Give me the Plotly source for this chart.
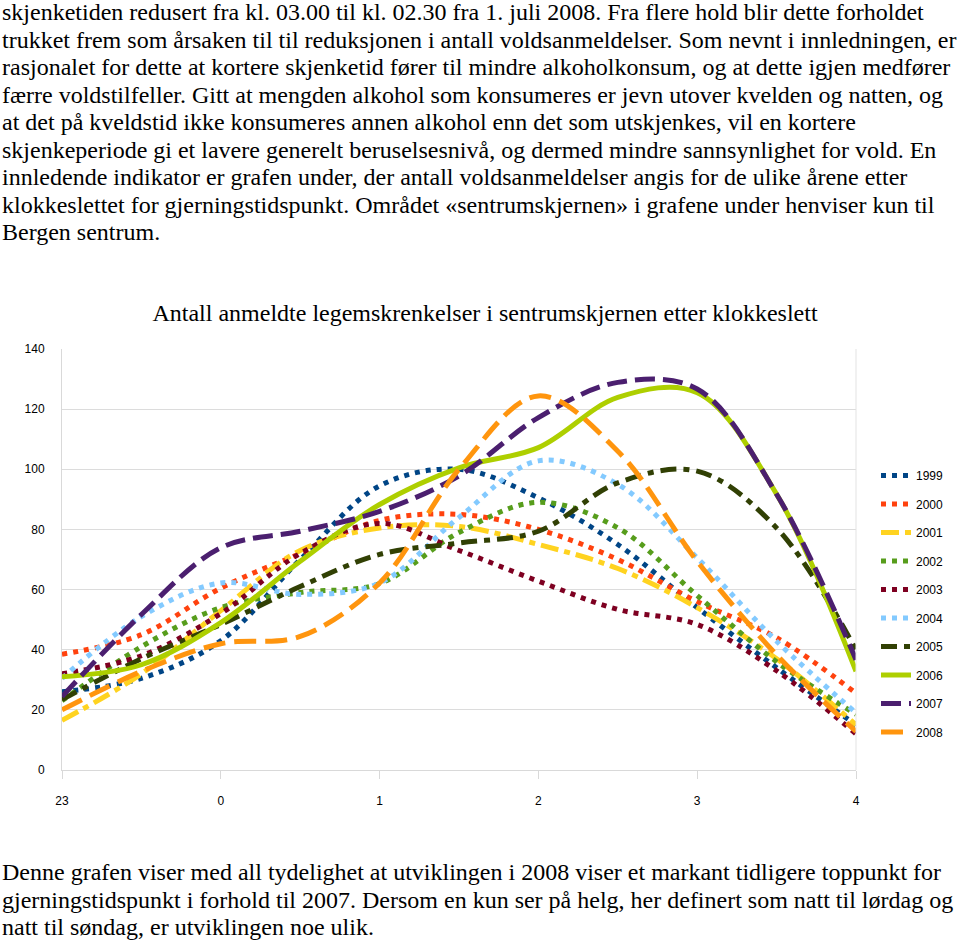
import plotly.graph_objects as go

# x positions: half-hour steps from 23:00 (-1) to 04:00 (4)
hours = [-1, -0.5, 0, 0.5, 1, 1.5, 2, 2.5, 3, 3.5, 4]
tick_vals = [-1, 0, 1, 2, 3, 4]
tick_text = ["23", "0", "1", "2", "3", "4"]

y1999 = [26, 30.5, 43, 70, 94.5, 100, 90.5, 75, 54, 34, 15]
y2000 = [38.5, 45, 60.5, 72, 83, 85, 80, 70, 56, 44, 25.5]
y2001 = [16.5, 32, 53, 73, 80.5, 81, 75, 67, 54, 37, 15]
y2002 = [23, 41, 54, 59, 62, 79, 89, 80.5, 58, 36, 18.5]
y2003 = [32, 38, 52, 72, 82, 73, 62.8, 53.4, 48.4, 33, 12]
y2004 = [30.5, 51, 62.2, 58.4, 62.2, 84, 102.8, 95, 70.5, 42.8, 19]
y2005 = [23.4, 37, 48.4, 61, 71.7, 75.5, 79.4, 95.5, 99.4, 80.5, 40]
y2006 = [31, 35, 49, 69.4, 88.3, 100.5, 107.2, 123.9, 125.5, 91.7, 32.8]
y2007 = [24.4, 51.7, 73.9, 79.4, 86, 97.8, 117.2, 128.9, 126.7, 91.7, 36.7]
y2008 = [20, 32.8, 42, 44.4, 62.2, 100, 124.4, 106, 69.4, 38.3, 12.8]

series_names = ["1999", "2000", "2001", "2002", "2003", "2004", "2005", "2006", "2007", "2008"]
series_values = [y1999, y2000, y2001, y2002, y2003, y2004, y2005, y2006, y2007, y2008]
colors = ["#004586", "#ff420e", "#ffd320", "#579d1c", "#7e0021",
          "#83caff", "#314004", "#aecf00", "#4b1f6f", "#ff950e"]
dashes = ["5px,6px", "5px,6px", "18px,6px,6px,6px", "5px,6px", "5px,6px",
          "5px,6px", "16px,7px,6px,7px", "solid", "20px,8px", "22px,9px"]

top_text = [
    "skjenketiden redusert fra kl. 03.00 til kl. 02.30 fra 1. juli 2008. Fra flere hold blir dette forholdet",
    "trukket frem som årsaken til til reduksjonen i antall voldsanmeldelser. Som nevnt i innledningen, er",
    "rasjonalet for dette at kortere skjenketid fører til mindre alkoholkonsum, og at dette igjen medfører",
    "færre voldstilfeller. Gitt at mengden alkohol som konsumeres er jevn utover kvelden og natten, og",
    "at det på kveldstid ikke konsumeres annen alkohol enn det som utskjenkes, vil en kortere",
    "skjenkeperiode gi et lavere generelt beruselsesnivå, og dermed mindre sannsynlighet for vold. En",
    "innledende indikator er grafen under, der antall voldsanmeldelser angis for de ulike årene etter",
    "klokkeslettet for gjerningstidspunkt. Området «sentrumskjernen» i grafene under henviser kun til",
    "Bergen sentrum.",
]
bottom_text = [
    "Denne grafen viser med all tydelighet at utviklingen i 2008 viser et markant tidligere toppunkt for",
    "gjerningstidspunkt i forhold til 2007. Dersom en kun ser på helg, her definert som natt til lørdag og",
    "natt til søndag, er utviklingen noe ulik.",
]
title_text = "Antall anmeldte legemskrenkelser i sentrumskjernen etter klokkeslett"

SERIF = "Liberation Serif, Times New Roman, Times, serif"
SANS = "Liberation Sans, Arial, sans-serif"

W, H = 960, 941
L, R, T, B = 62, 856, 349, 770

fig = go.Figure()
for i, (name, vals) in enumerate(zip(series_names, series_values)):
    fig.add_trace(go.Scatter(
        x=hours, y=vals, name=name, mode="lines",
        line=dict(color=colors[i], width=5, dash=dashes[i], shape="spline", smoothing=1.0),
        legendgroup=name,
    ))

def px_to_paper_x(px):
    return (px - L) / (R - L)

def px_to_paper_y(py):
    return (B - py) / (B - T)

annotations = []
top_y = [12, 40, 67, 95, 122, 150, 177, 205, 232]
for txt, py in zip(top_text, top_y):
    annotations.append(dict(text=txt, x=px_to_paper_x(0), y=px_to_paper_y(py),
                            xref="paper", yref="paper", xanchor="left", yanchor="middle",
                            showarrow=False, font=dict(family=SERIF, size=24, color="black")))
bot_y = [872, 900, 927]
for txt, py in zip(bottom_text, bot_y):
    annotations.append(dict(text=txt, x=px_to_paper_x(0), y=px_to_paper_y(py),
                            xref="paper", yref="paper", xanchor="left", yanchor="middle",
                            showarrow=False, font=dict(family=SERIF, size=24, color="black")))

fig.update_layout(
    width=W, height=H,
    margin=dict(l=L, r=W - R, t=T, b=H - B, autoexpand=False),
    paper_bgcolor="white", plot_bgcolor="white",
    title=dict(text=title_text, x=485 / W, y=1 - 313 / H, xanchor="center", yanchor="middle",
               font=dict(family=SERIF, size=24, color="black")),
    showlegend=True,
    legend=dict(x=px_to_paper_x(876), y=px_to_paper_y(461), xanchor="left", yanchor="top",
                traceorder="grouped", tracegroupgap=9.5, itemwidth=30,
                font=dict(family=SANS, size=12, color="black"),
                bgcolor="rgba(0,0,0,0)"),
    annotations=annotations,
    xaxis=dict(range=[-1, 4], tickvals=tick_vals, ticktext=tick_text,
               showgrid=False, zeroline=False, showline=True, linecolor="#d9d9d9", linewidth=1,
               mirror=False, ticks="outside", ticklen=8, tickcolor="#d9d9d9",
               ticklabelstandoff=12,
               tickfont=dict(family=SANS, size=12, color="black")),
    yaxis=dict(range=[0, 140], dtick=20, showgrid=True, gridcolor="#dcdcdc", gridwidth=1,
               zeroline=False, showline=True, linecolor="#d9d9d9", linewidth=1,
               ticks="", ticklabelstandoff=14,
               tickfont=dict(family=SANS, size=12, color="black")),
    shapes=[dict(type="line", xref="paper", yref="paper", x0=1, x1=1, y0=0, y1=1,
                 line=dict(color="#e3e3e3", width=1))],
)

fig.write_html("out.html", config={"displayModeBar": False},
               post_script="document.body.style.margin='0px';document.body.style.overflow='hidden';")
